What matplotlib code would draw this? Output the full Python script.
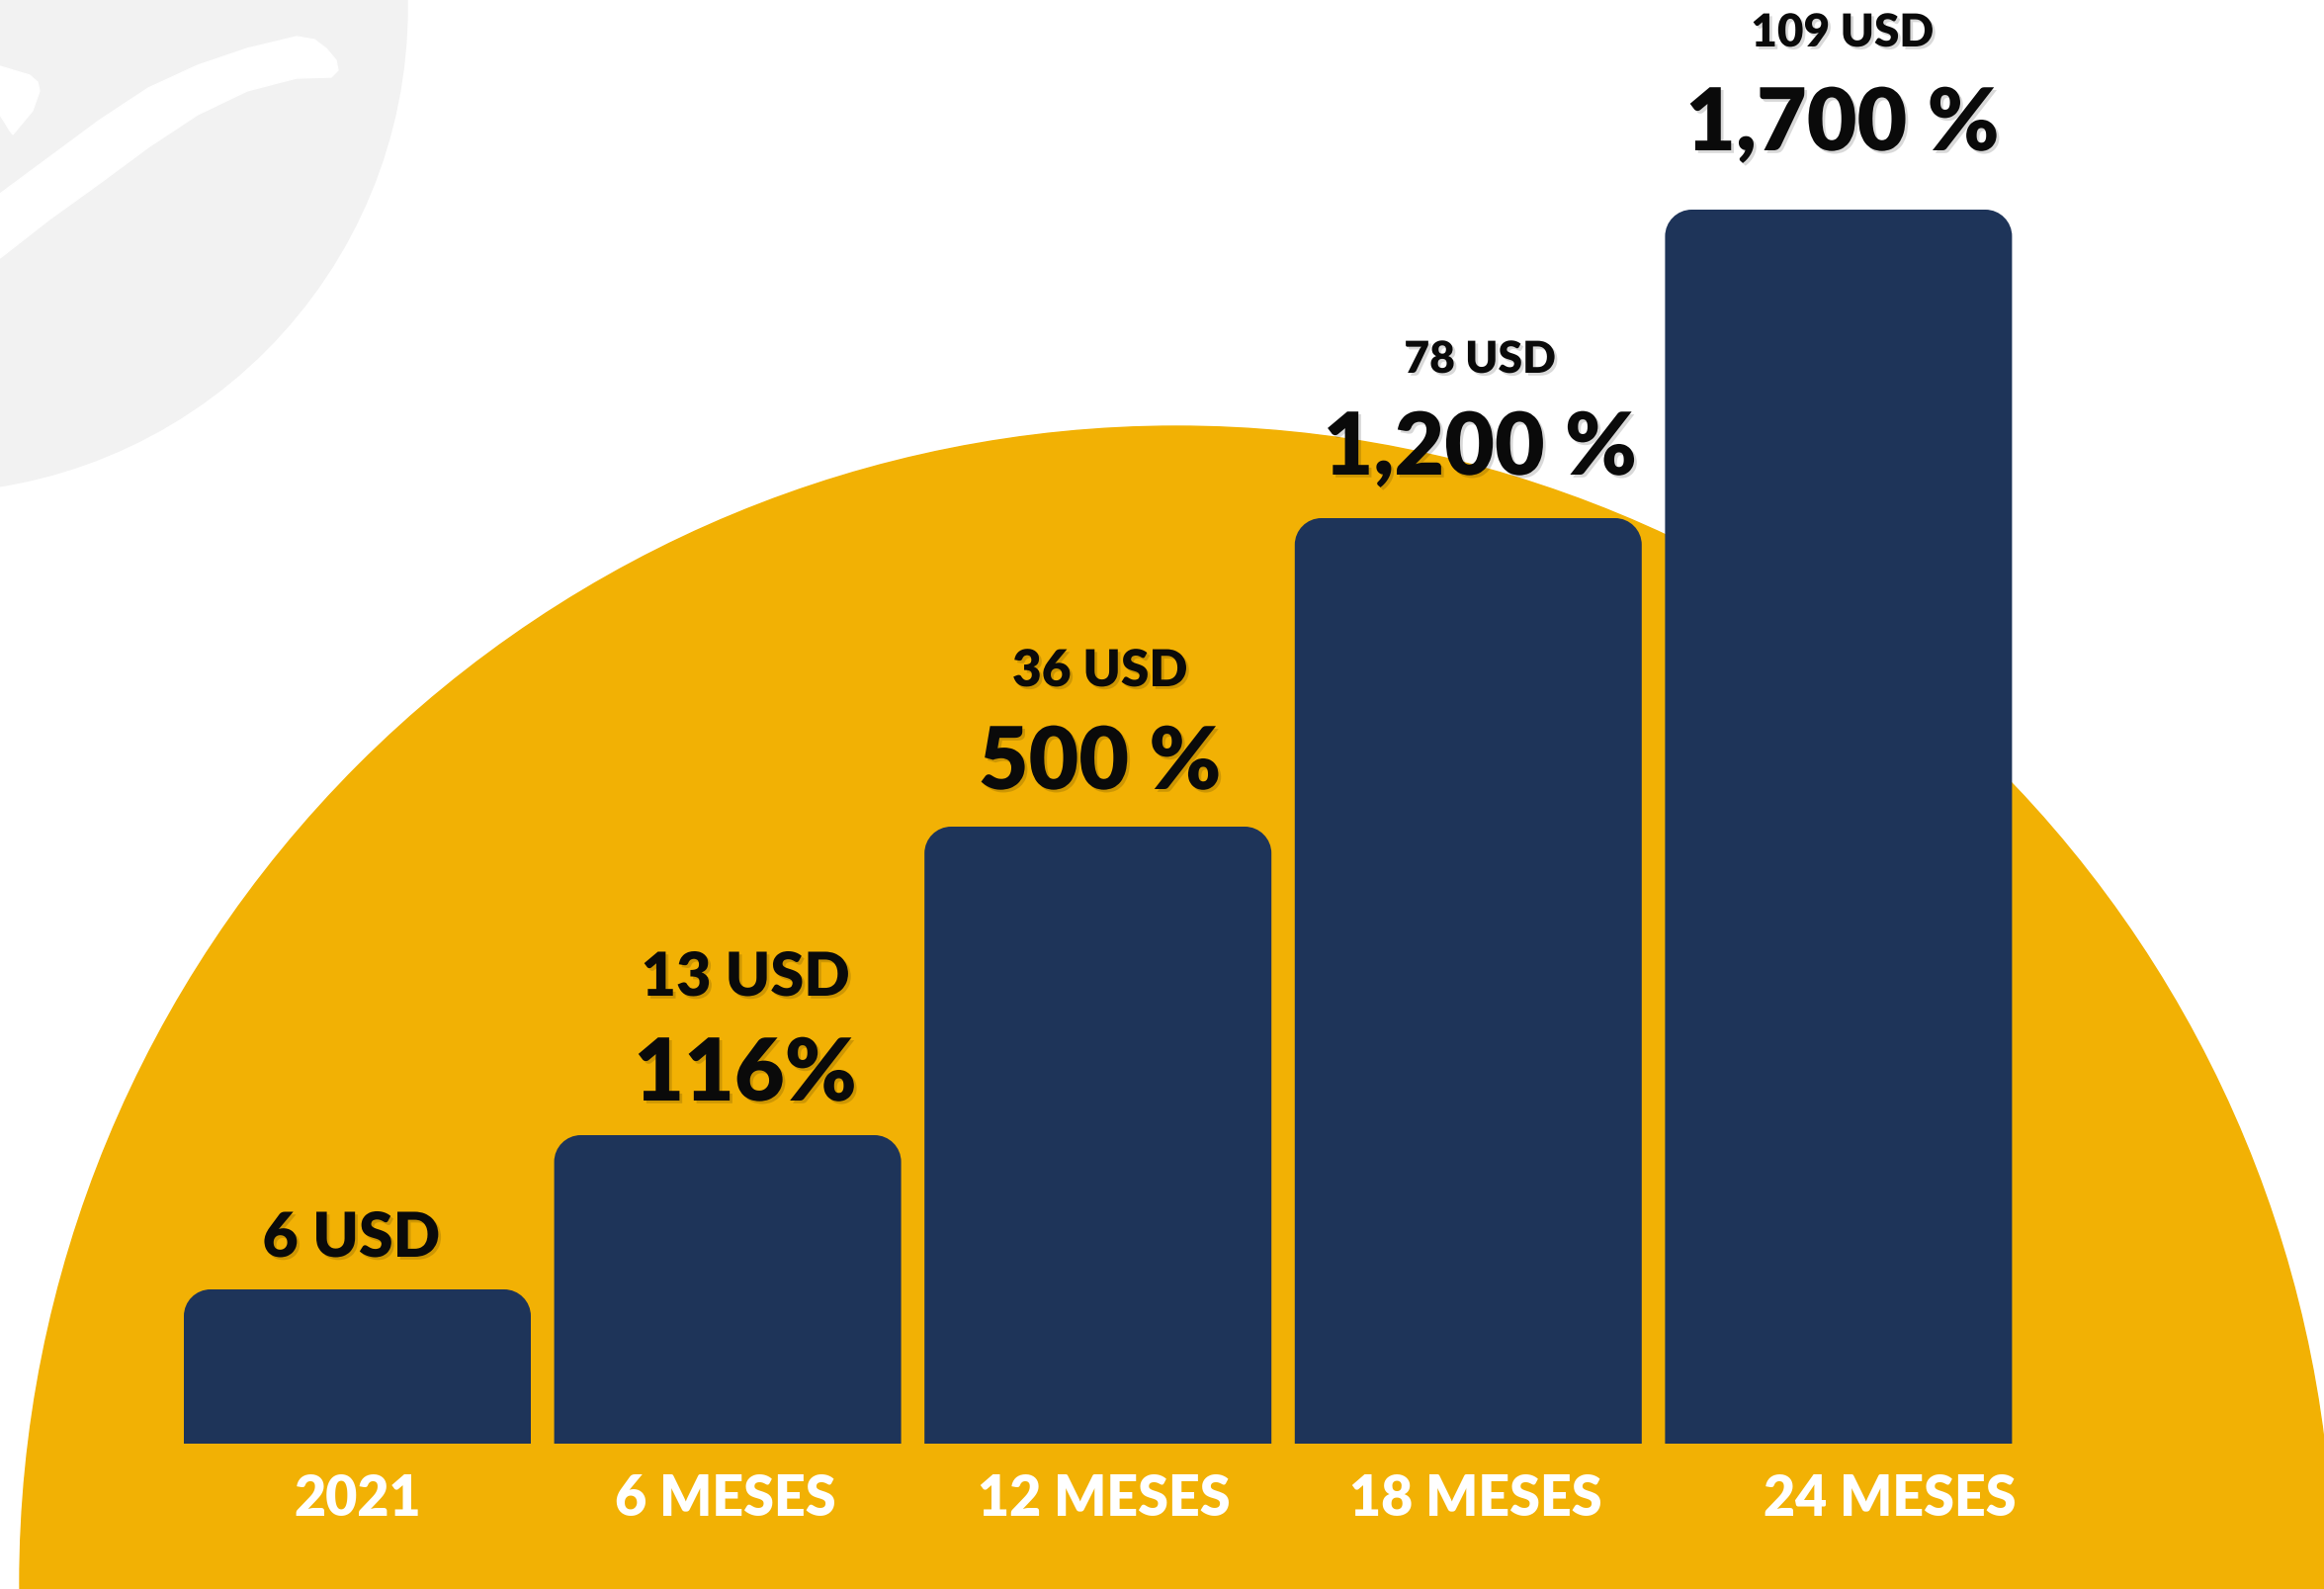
import matplotlib
matplotlib.use("Agg")
import matplotlib.pyplot as plt
from matplotlib.patches import Circle, Polygon, PathPatch
from matplotlib.path import Path
import matplotlib.patheffects as pe

# ---- data ----
categories = ["2021", "6 MESES", "12 MESES", "18 MESES", "24 MESES"]
bar_heights = [1, 2, 4, 6, 8]
usd_labels = ["6 USD", "13 USD", "36 USD", "78 USD", "109 USD"]
pct_labels = ["", "116%", "500 %", "1,200 %", "1,700 %"]

# ---- style ----
NAVY = "#1e3459"
YELLOW = "#f2b104"
GRAY = "#f2f2f2"
FONT = ["Lato", "DejaVu Sans"]
plt.rcParams["font.family"] = FONT

W, H = 2351, 1608
fig = plt.figure(figsize=(W / 100, H / 100), dpi=100)
fig.patch.set_facecolor("white")

# background decoration axes in pixel coordinates
bg = fig.add_axes([0, 0, 1, 1])
bg.set_xlim(0, W)
bg.set_ylim(H, 0)
bg.axis("off")
bg.add_patch(Circle((-78, 9), 490, color=GRAY, zorder=0))
bg.add_patch(Polygon([(0, 197), (50, 160), (100, 123), (150, 90), (200, 67), (250, 50),
                      (300, 38), (318, 41), (330, 50), (340, 62), (342, 72), (335, 79),
                      (300, 80), (250, 93), (200, 117), (150, 150), (100, 187),
                      (50, 223), (0, 262)],
                     closed=True, color="white", zorder=1))
bg.add_patch(Polygon([(0, 68), (30, 77), (38, 84), (40, 93), (33, 113), (13, 137),
                      (10, 133), (0, 117)],
                     closed=True, color="white", zorder=1))
bg.add_patch(Circle((1190, 1602), 1170, color=YELLOW, zorder=2))

# main bar axes
spacing = 374.6
unit = 156.0
x_left = 361.5 - spacing / 2
bottom_px = 1461
ymax = 9
ax = fig.add_axes([x_left / W, (H - bottom_px) / H, 5 * spacing / W, ymax * unit / H])
ax.set_xlim(-0.5, 4.5)
ax.set_ylim(0, ymax)
ax.patch.set_alpha(0)
for s in ax.spines.values():
    s.set_visible(False)
ax.set_yticks([])

width = 351 / spacing
bars = ax.bar(range(len(categories)), bar_heights, width=width, color="none", edgecolor="none")

rx = 27 / spacing
ry = 27 / unit
k = 0.5523
for b in bars:
    x0, y0 = b.get_x(), b.get_y()
    x1, y1 = x0 + b.get_width(), y0 + b.get_height()
    verts = [(x0, y0), (x0, y1 - ry),
             (x0, y1 - ry + k * ry), (x0 + rx - k * rx, y1), (x0 + rx, y1),
             (x1 - rx, y1),
             (x1 - rx + k * rx, y1), (x1, y1 - ry + k * ry), (x1, y1 - ry),
             (x1, y0), (x0, y0)]
    codes = [Path.MOVETO, Path.LINETO,
             Path.CURVE4, Path.CURVE4, Path.CURVE4,
             Path.LINETO,
             Path.CURVE4, Path.CURVE4, Path.CURVE4,
             Path.LINETO, Path.CLOSEPOLY]
    ax.add_patch(PathPatch(Path(verts, codes), facecolor=NAVY, edgecolor="none", zorder=3))

# category labels
ax.set_xticks(range(len(categories)))
ax.set_xticklabels([])
ax.tick_params(length=0)
cat_dx = [0, -2, 6, 8, 52]
for i, c in enumerate(categories):
    ax.annotate(c, xy=(i, 0), xytext=(cat_dx[i], -72), textcoords="offset pixels",
                ha="center", va="baseline", color="white", fontsize=40,
                fontweight="heavy", annotation_clip=False)

shadow = [pe.withSimplePatchShadow(offset=(2, -2), shadow_rgbFace="black", alpha=0.15)]

usd_off = [33, 141, 142, 147, 165]
usd_size = [45, 44, 37, 32, 33]
pct_off = [0, 35, 38, 44, 60]
lab_dx = [-6, 18, 2, 12, 4]
for i, h in enumerate(bar_heights):
    ax.annotate(usd_labels[i], xy=(i, h), xytext=(lab_dx[i], usd_off[i]),
                textcoords="offset pixels", ha="center", va="baseline",
                fontsize=usd_size[i], fontweight="heavy", color="#0a0a0a",
                annotation_clip=False, path_effects=shadow, zorder=5)
    if pct_labels[i]:
        ax.annotate(pct_labels[i], xy=(i, h), xytext=(lab_dx[i], pct_off[i]),
                    textcoords="offset pixels", ha="center", va="baseline",
                    fontsize=63, fontweight="heavy", color="#0a0a0a",
                    annotation_clip=False, path_effects=shadow, zorder=5)

fig.savefig("out.png", dpi=100, facecolor="white")
